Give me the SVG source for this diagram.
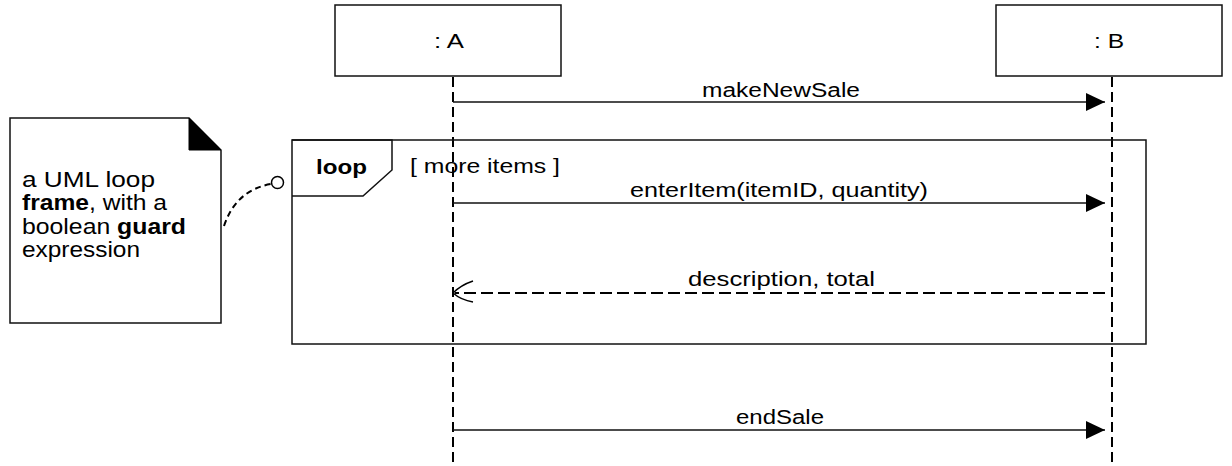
<svg xmlns="http://www.w3.org/2000/svg" width="1232" height="466" viewBox="0 0 1232 466">
<style>
text{font-family:"Liberation Sans",Arial,sans-serif;font-size:20px;fill:#000}
.box{fill:#fff;stroke:#111;stroke-width:1.5}
.life{stroke:#000;stroke-width:2;stroke-dasharray:10 5;fill:none}
.msg{stroke:#111;stroke-width:1.5;fill:none}
.ret{stroke:#000;stroke-width:2;stroke-dasharray:12 5;fill:none}
.b{font-weight:bold}
.n{font-size:22px}
</style>
<defs>
<marker id="fill" markerWidth="20" markerHeight="20" viewBox="0 0 20 20" refX="19" refY="10" orient="auto" markerUnits="userSpaceOnUse">
<path d="M0,1 L19,10 L0,19 Z" fill="#000"/>
</marker>
</defs>
<g id="lifeline-A">
<rect class="box" x="335" y="5" width="226" height="71"/>
<text x="434" y="48" textLength="30" lengthAdjust="spacingAndGlyphs" style="font-size:21px">: A</text>
<line class="life" x1="453" y1="77" x2="453" y2="466"/>
</g>
<g id="lifeline-B">
<rect class="box" x="996" y="5" width="226" height="71"/>
<text x="1094" y="48" textLength="30" lengthAdjust="spacingAndGlyphs" style="font-size:21px">: B</text>
<line class="life" x1="1112" y1="77" x2="1112" y2="466"/>
</g>
<g id="loop-frame">
<rect x="292" y="140" width="854" height="204" fill="none" stroke="#111" stroke-width="1.5"/>
<path d="M292,140 L392,140 L392,170 L363,196 L292,196" fill="none" stroke="#111" stroke-width="1.5"/>
<text class="b" x="316" y="174" textLength="51" lengthAdjust="spacingAndGlyphs">loop</text>
<text x="410" y="173" textLength="150" lengthAdjust="spacingAndGlyphs">[ more items ]</text>
</g>
<g id="note">
<path d="M10,118 L189,118 L221,150 L221,323 L10,323 Z" fill="#fff" stroke="#111" stroke-width="1.5"/>
<path d="M189,118 L221,150 L189,150 Z" fill="#000" stroke="#000" stroke-width="1"/>
<text class="n" x="22" y="187" textLength="133" lengthAdjust="spacingAndGlyphs">a UML loop</text>
<text class="n" x="22" y="210" textLength="145" lengthAdjust="spacingAndGlyphs"><tspan class="b">frame</tspan>, with a</text>
<text class="n" x="22" y="234" textLength="164" lengthAdjust="spacingAndGlyphs">boolean <tspan class="b">guard</tspan></text>
<text class="n" x="22" y="257" textLength="118" lengthAdjust="spacingAndGlyphs">expression</text>
</g>
<g id="connectors">
<line class="msg" x1="453" y1="102" x2="1105" y2="102" marker-end="url(#fill)"/>
<text x="702" y="97" textLength="158" lengthAdjust="spacingAndGlyphs">makeNewSale</text>
<line class="msg" x1="453" y1="203" x2="1105" y2="203" marker-end="url(#fill)"/>
<text x="630" y="197" textLength="298" lengthAdjust="spacingAndGlyphs">enterItem(itemID, quantity)</text>
<line class="ret" x1="1105" y1="293" x2="455" y2="293"/>
<path d="M473,281 Q461,285 453,293 Q461,300 473,302" fill="none" stroke="#000" stroke-width="1.5"/>
<text x="688" y="286" textLength="187" lengthAdjust="spacingAndGlyphs">description, total</text>
<line class="msg" x1="453" y1="430" x2="1105" y2="430" marker-end="url(#fill)"/>
<text x="736" y="424" textLength="88" lengthAdjust="spacingAndGlyphs">endSale</text>
<path d="M224,226 Q236,190 271,184" fill="none" stroke="#000" stroke-width="2" stroke-dasharray="6 4"/>
<circle cx="277.5" cy="182.5" r="6" fill="#fff" stroke="#000" stroke-width="1.5"/>
</g>
</svg>
